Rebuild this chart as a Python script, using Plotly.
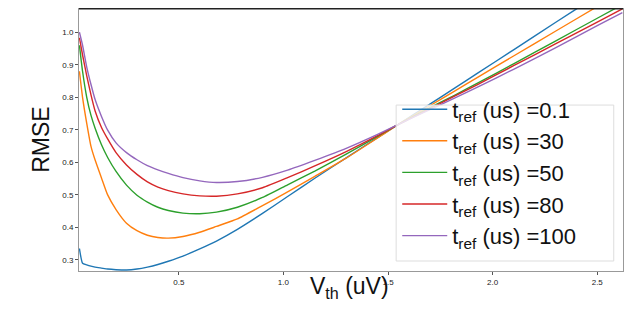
import plotly.graph_objects as go

# threshold voltage grid (uV)
v_th = [0.025, 0.04, 0.06, 0.08, 0.10, 0.13, 0.16, 0.20, 0.25, 0.30,
        0.35, 0.40, 0.45, 0.52, 0.60, 0.68, 0.78, 0.90, 1.02, 1.15,
        1.30, 1.45, 1.55, 1.70, 1.82, 1.93, 2.10, 2.30, 2.50, 2.62]

# RMSE per refractory time
rmse_01 = [0.335, 0.290, 0.285, 0.281, 0.278, 0.275, 0.272, 0.270, 0.269, 0.272,
           0.278, 0.286, 0.296, 0.312, 0.334, 0.358, 0.394, 0.443, 0.495, 0.551,
           0.614, 0.676, 0.717, 0.779, 0.829, 0.875, 0.946, 1.030, 1.113, 1.163]
rmse_30 = [0.880, 0.800, 0.720, 0.650, 0.607, 0.553, 0.500, 0.455, 0.413, 0.390,
           0.376, 0.369, 0.367, 0.372, 0.385, 0.403, 0.426, 0.467, 0.509, 0.557,
           0.613, 0.675, 0.717, 0.774, 0.820, 0.862, 0.927, 1.003, 1.079, 1.125]
rmse_50 = [0.960, 0.880, 0.800, 0.745, 0.705, 0.655, 0.615, 0.572, 0.530, 0.499,
           0.478, 0.462, 0.452, 0.444, 0.442, 0.447, 0.462, 0.492, 0.531, 0.573,
           0.625, 0.680, 0.717, 0.768, 0.807, 0.844, 0.903, 0.973, 1.043, 1.085]
rmse_80 = [0.983, 0.930, 0.866, 0.808, 0.758, 0.708, 0.672, 0.630, 0.592, 0.563,
           0.540, 0.524, 0.513, 0.503, 0.497, 0.496, 0.503, 0.522, 0.553, 0.589,
           0.633, 0.682, 0.717, 0.765, 0.804, 0.840, 0.897, 0.964, 1.031, 1.072]
rmse_100 = [1.000, 0.960, 0.893, 0.840, 0.793, 0.742, 0.699, 0.660, 0.630, 0.608,
            0.590, 0.577, 0.566, 0.553, 0.543, 0.538, 0.541, 0.554, 0.576, 0.606,
            0.643, 0.686, 0.717, 0.762, 0.798, 0.832, 0.886, 0.952, 1.020, 1.060]

t_ref = ['0.1', '30', '50', '80', '100']
series = [rmse_01, rmse_30, rmse_50, rmse_80, rmse_100]
colors = ['#1f77b4', '#ff7f0e', '#2ca02c', '#d62728', '#9467bd']

fig = go.Figure()
for t, ys, c in zip(t_ref, series, colors):
    fig.add_trace(go.Scatter(
        x=v_th, y=ys, mode='lines',
        name='t<sub>ref</sub> (us) =' + t,
        line=dict(color=c, width=1.4, shape='spline', smoothing=0.5),
    ))

axis_style = dict(showgrid=False, zeroline=False, showline=True, mirror=True,
                  linecolor='#999', linewidth=1, ticks='outside', ticklen=3,
                  tickcolor='#555', tickfont=dict(size=8, color='#222'),
                  tickformat='.1f')

fig.update_layout(
    width=640, height=333,
    margin=dict(l=71, r=25, t=0, b=70),
    paper_bgcolor='white', plot_bgcolor='white',
    font=dict(family='Liberation Sans, Arial, sans-serif', color='#111'),
    xaxis=dict(axis_style, range=[0.023, 2.623], tickvals=[0.5, 1.0, 1.5, 2.0, 2.5]),
    yaxis=dict(axis_style, range=[0.266, 1.0745], dtick=0.1, tick0=0.3,
               title=dict(text='RMSE', font=dict(size=23), standoff=6)),
    legend=dict(x=0.585, y=0.375, xanchor='left', yanchor='middle',
                bgcolor='rgba(0,0,0,0)', borderwidth=0,
                font=dict(size=22, color='#111'), itemwidth=45, tracegroupgap=0),
    showlegend=True,
)
# x axis title placed closer to the tick labels
fig.add_annotation(text='V<sub>th</sub> (uV)', xref='paper', yref='paper',
                   x=0.498, y=0.0, xanchor='center', yanchor='top',
                   showarrow=False, font=dict(size=23, color='#111'))
# legend frame, semi-transparent like the original
fig.add_shape(type='rect', xref='paper', yref='paper', x0=0.583, x1=0.983,
              y0=0.038, y1=0.631, layer='above',
              fillcolor='rgba(255,255,255,0.8)', line=dict(color='#ddd', width=1))
# dark frame edge along the top
fig.add_shape(type='line', xref='paper', yref='paper', x0=0, x1=1, y0=1, y1=1,
              line=dict(color='#222', width=3))

fig.write_html('out.html')
